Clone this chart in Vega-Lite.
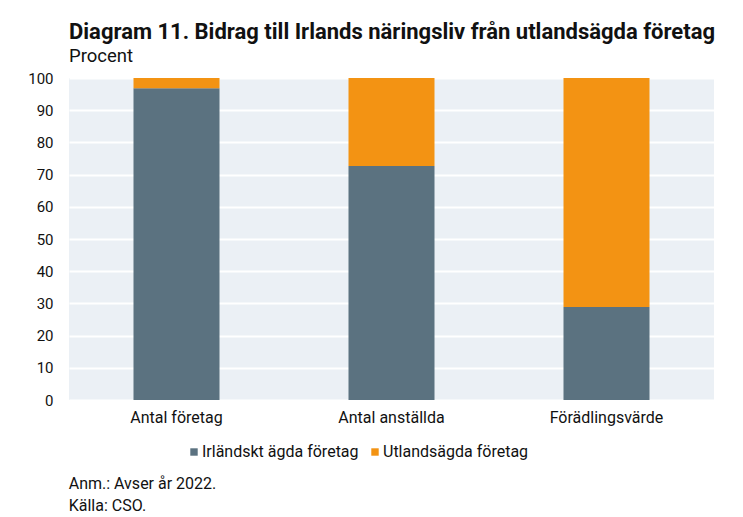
{
  "$schema": "https://vega.github.io/schema/vega-lite/v6.json",
  "background": "white",
  "padding": {"left": 27, "top": 20, "right": 28, "bottom": 2},
  "title": {
    "text": ["Anm.: Avser år 2022.", "Källa: CSO."],
    "orient": "bottom",
    "anchor": "start",
    "frame": "bounds",
    "dx": 41,
    "offset": 16,
    "font": "Roboto",
    "fontSize": 16,
    "fontWeight": "normal",
    "lineHeight": 22,
    "color": "#111111"
  },
  "config": {
    "view": {"fill": "#ebf0f5", "stroke": null},
    "font": "Roboto"
  },
  "vconcat": [
    {
      "width": 645,
      "height": 322,
      "title": {
        "text": "Diagram 11. Bidrag till Irlands näringsliv från utlandsägda företag",
        "subtitle": "Procent",
        "anchor": "start",
        "frame": "group",
        "font": "Roboto",
        "fontSize": 22,
        "fontWeight": "bold",
        "color": "#111111",
        "subtitleFont": "Roboto",
        "subtitleFontSize": 18.5,
        "subtitleColor": "#111111",
        "subtitlePadding": 3,
        "offset": 5
      },
      "data": {
        "values": [
          {"kategori": "Antal företag", "agare": "Irländskt ägda företag", "ordning": 1, "andel": 96.8},
          {"kategori": "Antal företag", "agare": "Utlandsägda företag", "ordning": 2, "andel": 3.2},
          {"kategori": "Antal anställda", "agare": "Irländskt ägda företag", "ordning": 1, "andel": 72.7},
          {"kategori": "Antal anställda", "agare": "Utlandsägda företag", "ordning": 2, "andel": 27.3},
          {"kategori": "Förädlingsvärde", "agare": "Irländskt ägda företag", "ordning": 1, "andel": 28.9},
          {"kategori": "Förädlingsvärde", "agare": "Utlandsägda företag", "ordning": 2, "andel": 71.1}
        ]
      },
      "mark": {"type": "bar"},
      "encoding": {
        "x": {
          "field": "kategori",
          "type": "nominal",
          "sort": ["Antal företag", "Antal anställda", "Förädlingsvärde"],
          "scale": {"paddingInner": 0.6, "paddingOuter": 0.3},
          "axis": {
            "title": null,
            "labelAngle": 0,
            "domain": false,
            "ticks": false,
            "labelPadding": 9,
            "labelFontSize": 16,
            "labelColor": "#111111",
            "labelFont": "Roboto"
          }
        },
        "y": {
          "field": "andel",
          "type": "quantitative",
          "stack": "zero",
          "scale": {"domain": [0, 100]},
          "axis": {
            "title": null,
            "values": [0, 10, 20, 30, 40, 50, 60, 70, 80, 90, 100],
            "domain": false,
            "ticks": false,
            "labelPadding": 16,
            "labelFontSize": 15,
            "labelColor": "#111111",
            "labelFont": "Roboto",
            "gridColor": "#ffffff",
            "gridWidth": 2
          }
        },
        "color": {
          "field": "agare",
          "type": "nominal",
          "scale": {
            "domain": ["Irländskt ägda företag", "Utlandsägda företag"],
            "range": ["#5b7280", "#f39313"]
          },
          "legend": {
            "title": null,
            "orient": "none",
            "legendX": 117,
            "legendY": 366,
            "direction": "horizontal",
            "symbolType": "square",
            "symbolSize": 55,
            "symbolStrokeWidth": 0,
            "labelFontSize": 16,
            "labelColor": "#111111",
            "labelFont": "Roboto",
            "labelOffset": 0,
            "columnPadding": 8
          }
        },
        "order": {"field": "ordning", "type": "quantitative"}
      }
    }
  ]
}
